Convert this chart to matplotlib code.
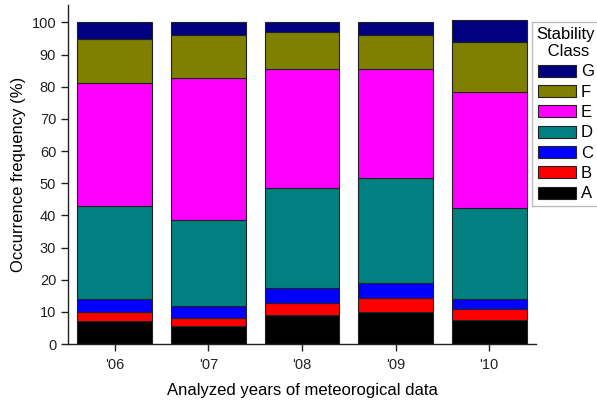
import numpy as np
import matplotlib
matplotlib.use('Agg')
import matplotlib.pyplot as plt

plt.rcParams['font.family'] = ['Liberation Sans', 'DejaVu Sans']

###data (segment heights, % occurrence)
years = ["'06", "'07", "'08", "'09", "'10"]
classes = ['A', 'B', 'C', 'D', 'E', 'F', 'G']
A = [7.0, 5.5, 9.0, 10.0, 7.5]
B = [3.0, 2.7, 3.8, 4.2, 3.3]
C = [4.0, 3.6, 4.5, 4.7, 3.2]
D = [29.0, 26.8, 31.2, 32.8, 28.4]
E = [38.3, 44.1, 37.0, 33.8, 36.1]
F = [13.4, 13.3, 11.6, 10.6, 15.3]
G = [5.3, 4.0, 2.9, 3.9, 7.0]
series = [A, B, C, D, E, F, G]
colors = ['#000000', '#ff0000', '#0000ff', '#008080', '#ff00ff', '#808000', '#000080']

fig = plt.figure(figsize=(5.97, 4.03), dpi=100)
ax = fig.add_axes([0.1139, 0.1464, 0.7839, 0.8412])

x = np.arange(len(years))
bottom = np.zeros(len(years))
handles = []
for vals, lab, col in zip(series, classes, colors):
    h = ax.bar(x, vals, width=0.8, bottom=bottom, color=col, edgecolor='#222222',
               linewidth=0.8, label=lab)
    handles.append(h)
    bottom = bottom + np.array(vals)

ax.set_xlim(-0.5, 4.5)
ax.set_ylim(0, 105.4)
ax.set_xticks(x)
ax.set_xticklabels(years)
ax.set_yticks(np.arange(0, 101, 10))
ax.spines['top'].set_visible(False)
ax.spines['right'].set_visible(False)
for s in ['left', 'bottom']:
    ax.spines[s].set_color('#222222')
    ax.spines[s].set_linewidth(1.0)
ax.tick_params(direction='out', length=5, width=1.0, labelsize=10.5, colors='#222222')
ax.tick_params(axis='x', pad=5)
ax.set_xlabel('Analyzed years of meteorogical data', fontsize=12, labelpad=8)
ax.set_ylabel('Occurrence frequency (%)', fontsize=12, labelpad=4)

leg = fig.legend(handles[::-1], classes[::-1], title='Stability\n Class',
                 loc='upper left', bbox_to_anchor=(531.7/597, 1 - 21.7/403),
                 fontsize=12, title_fontsize=12, fancybox=False, framealpha=1,
                 edgecolor='#bbbbbb', handlelength=2.3, handleheight=0.75,
                 handletextpad=0.3, labelspacing=0.32, borderpad=0.3,
                 borderaxespad=0)
leg.get_title().set_multialignment('center')

fig.savefig('out.png', dpi=100)
